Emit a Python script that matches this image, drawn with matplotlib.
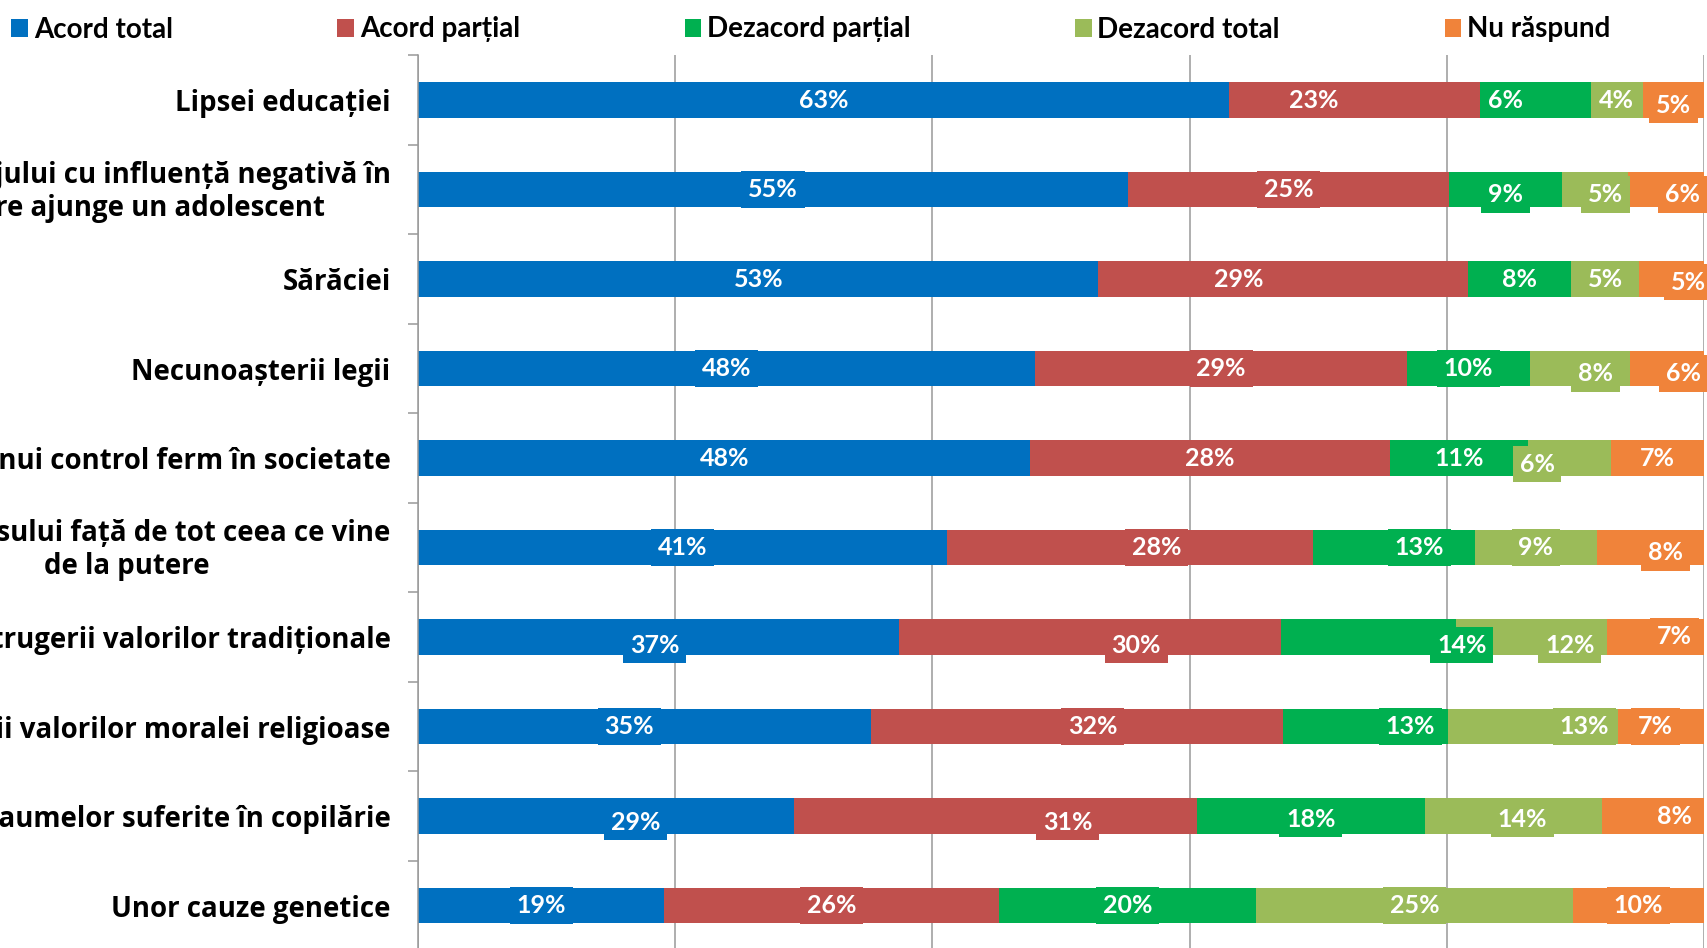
import matplotlib
matplotlib.use("Agg")
import matplotlib.pyplot as plt
from matplotlib.patches import Patch
from matplotlib.transforms import ScaledTranslation
import numpy as np

plt.rcParams['font.family'] = ['Lato', 'DejaVu Sans']
plt.rcParams['font.weight'] = 'bold'

# categories, top to bottom
categories = [
    "Lipsei educației",
    "Anturajului cu influență negativă în\ncare ajunge un adolescent",
    "Sărăciei",
    "Necunoașterii legii",
    "Lipsei unui control ferm în societate",
    "Dezinteresului față de tot ceea ce vine\nde la putere",
    "Distrugerii valorilor tradiționale",
    "Pierderii valorilor moralei religioase",
    "Traumelor suferite în copilărie",
    "Unor cauze genetice",
]
series = ["Acord total", "Acord parțial", "Dezacord parțial", "Dezacord total", "Nu răspund"]

# segment widths (% of bar) as drawn
acord_total      = [63.1, 55.2, 52.9, 48.0, 47.6, 41.1, 37.4, 35.2, 29.2, 19.1]
acord_partial    = [19.5, 25.0, 28.8, 28.9, 28.0, 28.5, 29.7, 32.1, 31.4, 26.1]
dezacord_partial = [8.6, 8.8, 8.0, 9.6, 10.7, 12.6, 13.6, 12.8, 17.7, 20.0]
dezacord_total   = [4.1, 5.1, 5.3, 7.8, 6.5, 9.5, 11.8, 13.2, 13.8, 24.6]
nu_raspund       = [4.7, 5.9, 5.0, 5.7, 7.2, 8.3, 7.5, 6.7, 7.9, 10.2]

# data label values as printed
lab_acord_total      = [63, 55, 53, 48, 48, 41, 37, 35, 29, 19]
lab_acord_partial    = [23, 25, 29, 29, 28, 28, 30, 32, 31, 26]
lab_dezacord_partial = [6, 9, 8, 10, 11, 13, 14, 13, 18, 20]
lab_dezacord_total   = [4, 5, 5, 8, 6, 9, 12, 13, 14, 25]
lab_nu_raspund       = [5, 6, 5, 6, 7, 8, 7, 7, 8, 10]

colors = ["#0070C0", "#C0504D", "#00B050", "#9BBB59", "#F0833A"]

# label nudges: dx in % units, dy in pixels (down)
label_dx = [
    [0, -3.2, -2.3, 0, 0],
    [0, 0, 0, 0.8, 1.3],
    [0, -3.5, 0, 0, 1.3],
    [0, 0, 0, 1.2, 1.3],
    [0, 0, 0, -2.5, 0],
    [0, 2.1, 2.0, 0, 1.2],
    [-0.3, 3.6, 7.3, 3.0, 1.5],
    [-1.2, 1.2, 3.5, 4.0, -0.4],
    [2.3, 5.6, 0, 0.7, 1.7],
    [0, 0, 0, 0, 0],
]
label_dy = [
    [0, 0, 0, 0, 5],
    [0, 0, 5, 5, 5],
    [0, 0, 0, 0, 3],
    [0, 0, 0, 5, 5],
    [0, 0, 0, 6, 0],
    [0, 0, 0, 0, 5],
    [8, 8, 8, 8, -1],
    [0, 0, 0, 0, 0],
    [6, 6, 3, 3, 0],
    [0, 0, 0, 0, 0],
]

widths = np.array([acord_total, acord_partial, dezacord_partial, dezacord_total, nu_raspund])
labels = np.array([lab_acord_total, lab_acord_partial, lab_dezacord_partial,
                   lab_dezacord_total, lab_nu_raspund])

fig = plt.figure(figsize=(17.08, 9.48), dpi=100)
ax = fig.add_axes([0.24497, -0.0024, 0.75246, 0.9441])

y = np.arange(len(categories))
left = np.zeros(len(categories))
for i, name in enumerate(series):
    ax.barh(y, widths[i], left=left, height=0.4, color=colors[i], label=name, zorder=2)
    for j in range(len(categories)):
        cx = left[j] + widths[i][j] / 2 + label_dx[j][i]
        ax.annotate(f"{labels[i][j]}%", (cx, y[j]), xytext=(0, -label_dy[j][i] * 0.72),
                    textcoords="offset points", ha="center", va="center",
                    color="white", fontsize=18, fontweight="bold", zorder=4,
                    annotation_clip=False,
                    bbox=dict(boxstyle="square,pad=0.27", fc=colors[i], ec="none"))
    left += widths[i]

ax.set_xlim(0, 100)
ax.set_ylim(len(categories) - 0.5, -0.5)
ax.set_xticks(np.arange(0, 101, 20))
ax.xaxis.grid(True, color="#999999", linewidth=1.1, zorder=0)
ax.tick_params(axis="x", length=0, labelbottom=False)

# boundaries carry the tick marks, labels sit at the bar centres
ax.set_yticks(np.arange(-0.5, len(categories), 1.0))
ax.set_yticklabels([])
ax.tick_params(axis="y", which="major", length=7, width=1.1, color="#999999", direction="out")
ax.set_yticks(y, minor=True)
ax.set_yticklabels(categories, minor=True, fontsize=19.9, fontweight="bold",
                   family=["Open Sans", "DejaVu Sans"], multialignment="center",
                   linespacing=1.22)
ax.tick_params(axis="y", which="minor", length=0, pad=20)
# two-line labels sit a little higher in the original
for lbl in ax.get_yticklabels(minor=True):
    if "\n" in lbl.get_text():
        lbl.set_transform(lbl.get_transform() + ScaledTranslation(0, 0.035, fig.dpi_scale_trans))

for s in ["top", "right", "bottom"]:
    ax.spines[s].set_visible(False)
ax.spines["left"].set_color("#999999")
ax.spines["left"].set_linewidth(1.1)

handles = [Patch(facecolor=c, edgecolor="none") for c in colors]
fig.legend(handles, series, loc="center left", bbox_to_anchor=(11.5 / 1708, 1 - 29.5 / 948),
           ncol=5, frameon=False, fontsize=20, borderpad=0, borderaxespad=0,
           handlelength=0.6, handleheight=0.6, handletextpad=0.2, columnspacing=5.93,
           prop={"weight": "bold", "size": 20})

fig.savefig("out.png", dpi=100)
